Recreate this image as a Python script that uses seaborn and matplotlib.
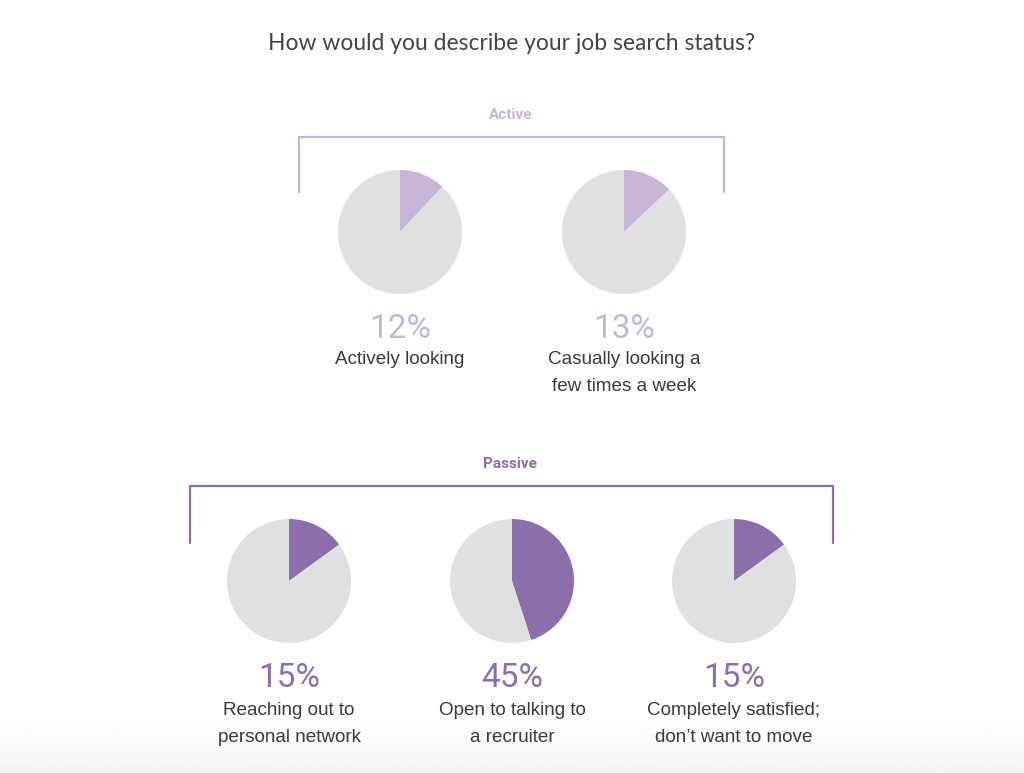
import numpy as np
import matplotlib.pyplot as plt
import seaborn as sns
from matplotlib.lines import Line2D

sns.set_theme(style="white")
plt.rcParams['font.family'] = ['Lato', 'DejaVu Sans']

# data
active_labels = ['Actively looking', 'Casually looking a\nfew times a week']
active_values = [12, 13]
passive_labels = ['Reaching out to\npersonal network', 'Open to talking to\na recruiter',
                  'Completely satisfied;\ndon\u2019t want to move']
passive_values = [15, 45, 15]

GRAY = '#dfe1e1'
LIGHT = '#c8b5d6'
DARK = '#8c6eaa'
TEXT = '#3a3a3a'
W, H = 1024, 773
PCT_FONT = ['Roboto', 'DejaVu Sans']
LAB_FONT = ['Liberation Sans', 'DejaVu Sans']


def fx(x):
    return x / W


def fy(y):
    return 1 - y / H


def draw_pie(fig, cx, cy, r, value, color):
    ax = fig.add_axes([fx(cx - r), fy(cy + r), 2 * r / W, 2 * r / H])
    ax.pie([value, 100 - value], colors=[color, GRAY], startangle=90,
           counterclock=False, radius=1, wedgeprops={'linewidth': 0})
    ax.set_xlim(-1, 1)
    ax.set_ylim(-1, 1)
    ax.set_axis_off()
    return ax


def bracket(fig, x0, x1, ytop, ybot, color):
    fig.add_artist(Line2D([fx(x0), fx(x0), fx(x1), fx(x1)],
                          [fy(ybot), fy(ytop), fy(ytop), fy(ybot)],
                          color=color, lw=1.6, transform=fig.transFigure))


fig = plt.figure(figsize=(10.24, 7.73), dpi=100)
fig.patch.set_facecolor('white')

# faint gray fade along the bottom edge
bg = fig.add_axes([0, 0, 1, fy(720)], zorder=-1)
grad = np.linspace(0.955, 1.0, 64).reshape(-1, 1)
bg.imshow(grad, aspect='auto', cmap='gray', vmin=0, vmax=1, origin='lower',
          extent=[0, 1, 0, 1])
bg.set_axis_off()

fig.text(0.5, fy(43), 'How would you describe your job search status?',
         ha='center', va='center', fontsize=16.5, color='#444444', family=['Lato', 'DejaVu Sans'])

# Active group
fig.text(fx(511), fy(115), 'Active', ha='center', va='center', fontsize=11,
         fontweight='bold', color=LIGHT, family=PCT_FONT)
bracket(fig, 299, 724, 137, 192, LIGHT)
for cx, v, lab in zip([400, 624], active_values, active_labels):
    draw_pie(fig, cx, 232, 62, v, LIGHT)
    fig.text(fx(cx), fy(329), f'{v}%', ha='center', va='center', fontsize=24,
             fontweight='normal', color=LIGHT, family=PCT_FONT)
    fig.text(fx(cx), fy(351), lab, ha='center', va='top', fontsize=13.6,
             color=TEXT, linespacing=1.75, family=LAB_FONT)

# Passive group
fig.text(fx(510), fy(464), 'Passive', ha='center', va='center', fontsize=11,
         fontweight='bold', color=DARK, family=PCT_FONT)
bracket(fig, 190, 833, 486, 543, DARK)
for cx, v, lab in zip([289, 512, 734], passive_values, passive_labels):
    draw_pie(fig, cx, 581, 62, v, DARK)
    fig.text(fx(cx), fy(678), f'{v}%', ha='center', va='center', fontsize=24,
             fontweight='normal', color=DARK, family=PCT_FONT)
    fig.text(fx(cx), fy(702), lab, ha='center', va='top', fontsize=13.6,
             color=TEXT, linespacing=1.75, family=LAB_FONT)

fig.savefig('out.png', dpi=100, facecolor='white')
